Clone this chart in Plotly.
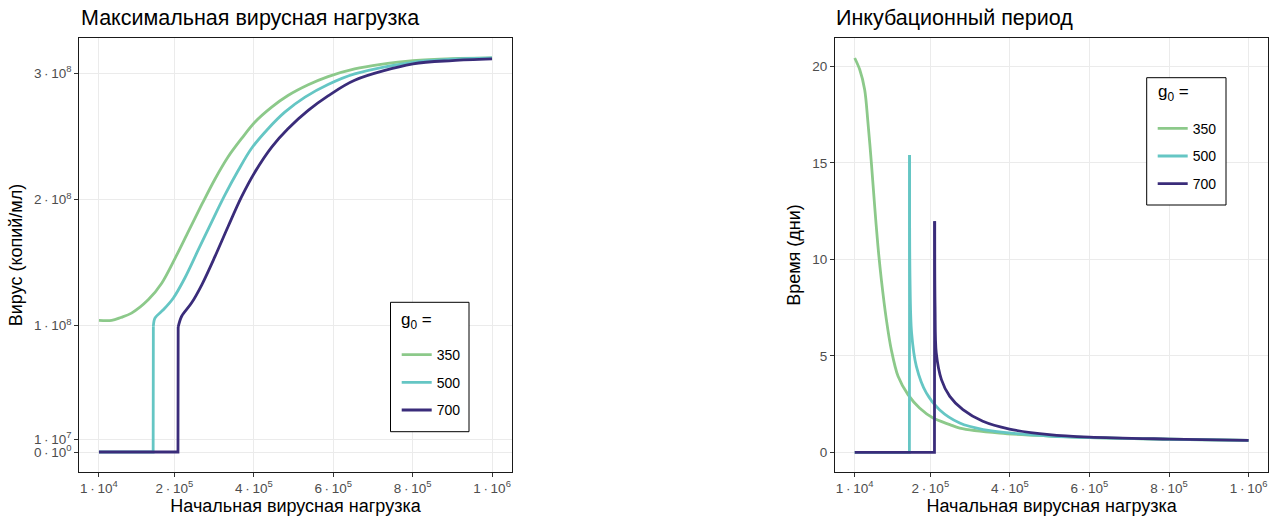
import plotly.graph_objects as go

# ---------------- data ----------------
g0_labels = ["350", "500", "700"]
colors = ["#8CC98A", "#65C6C4", "#3A2C7A"]

# Left panel: max viral load vs initial viral load
max_x_350 = [1e4, 4.2e4, 6.5e4, 9.2e4, 1.34e5, 1.68e5, 2.01e5, 2.35e5, 2.69e5, 3.02e5, 3.35e5, 3.69e5,
             4.03e5, 4.45e5, 4.86e5, 5.37e5, 5.87e5, 6.54e5, 7.2e5, 8.01e5, 9.0e5, 1.0e6]
max_y_350 = [1.042e8, 1.042e8, 1.065e8, 1.10e8, 1.205e8, 1.337e8, 1.53e8, 1.745e8, 1.96e8, 2.16e8,
             2.336e8, 2.481e8, 2.613e8, 2.731e8, 2.823e8, 2.908e8, 2.973e8, 3.034e8, 3.07e8, 3.10e8,
             3.115e8, 3.12e8]

max_x_500 = [1e4, 1.465e5, 1.47e5, 1.51e5, 1.72e5, 1.97e5, 2.26e5, 2.60e5, 2.94e5, 3.27e5, 3.61e5,
             3.94e5, 4.36e5, 4.78e5, 5.29e5, 5.87e5, 6.54e5, 8.01e5, 9.0e5, 1.0e6]
max_y_500 = [0, 0, 0.994e8, 1.06e8, 1.126e8, 1.218e8, 1.376e8, 1.60e8, 1.823e8, 2.034e8, 2.231e8,
             2.403e8, 2.56e8, 2.691e8, 2.81e8, 2.91e8, 2.994e8, 3.086e8, 3.11e8, 3.12e8]

max_x_700 = [1e4, 2.09e5, 2.095e5, 2.18e5, 2.43e5, 2.69e5, 3.02e5, 3.35e5, 3.69e5, 4.03e5, 4.45e5,
             4.86e5, 5.37e5, 5.87e5, 6.54e5, 8.01e5, 9.0e5, 1.0e6]
max_y_700 = [0, 0, 0.99e8, 1.073e8, 1.179e8, 1.324e8, 1.547e8, 1.784e8, 2.02e8, 2.218e8, 2.415e8,
             2.56e8, 2.705e8, 2.82e8, 2.944e8, 3.073e8, 3.10e8, 3.113e8]

# Right panel: incubation period
inc_x_350 = [1e4, 2.26e4, 3.51e4, 4.34e4, 5.19e4, 6.02e4, 6.85e4, 7.7e4, 8.96e4, 1.02e5, 1.19e5,
             1.44e5, 1.73e5, 2.07e5, 2.49e5, 2.74e5, 3.74e5, 5.0e5, 6.0e5, 8.0e5, 1.0e6]
inc_y_350 = [20.43, 19.83, 18.79, 17.07, 15.0, 12.75, 10.67, 8.95, 6.88, 5.32, 3.94,
             2.99, 2.30, 1.78, 1.44, 1.26, 1.0, 0.85, 0.77, 0.68, 0.62]

inc_x_500 = [1e4, 1.475e5, 1.48e5, 1.49e5, 1.53e5, 1.65e5, 1.90e5, 2.23e5, 2.74e5, 3.33e5, 4.17e5,
             5.0e5, 6.0e5, 8.0e5, 1.0e6]
inc_y_500 = [0, 0, 15.4, 9.0, 6.19, 4.46, 3.08, 2.21, 1.52, 1.18, 0.97, 0.85, 0.77, 0.68, 0.62]

inc_x_700 = [1e4, 2.105e5, 2.11e5, 2.12e5, 2.15e5, 2.28e5, 2.49e5, 2.82e5, 3.32e5, 3.99e5, 4.99e5,
             6.0e5, 8.0e5, 1.0e6]
inc_y_700 = [0, 0, 11.97, 7.5, 5.15, 3.77, 2.90, 2.21, 1.61, 1.21, 0.92, 0.79, 0.69, 0.62]

x_tickvals = [1e4, 2e5, 4e5, 6e5, 8e5, 1e6]
x_ticktext = ["1\u2009·\u200910<sup>4</sup>", "2\u2009·\u200910<sup>5</sup>", "4\u2009·\u200910<sup>5</sup>",
              "6\u2009·\u200910<sup>5</sup>", "8\u2009·\u200910<sup>5</sup>", "1\u2009·\u200910<sup>6</sup>"]
y1_tickvals = [0, 1e7, 1e8, 2e8, 3e8]
y1_ticktext = ["0\u2009·\u200910<sup>0</sup>", "1\u2009·\u200910<sup>7</sup>", "1\u2009·\u200910<sup>8</sup>",
               "2\u2009·\u200910<sup>8</sup>", "3\u2009·\u200910<sup>8</sup>"]
y2_tickvals = [0, 5, 10, 15, 20]

title_left = "Максимальная вирусная нагрузка"
title_right = "Инкубационный период"
xlabel = "Начальная вирусная нагрузка"
ylabel_left = "Вирус (копий/мл)"
ylabel_right = "Время (дни)"
legend_title = "g<sub>0</sub> ="

# ---------------- figure ----------------
FONT = "Liberation Sans, Arial, sans-serif"
W, H = 1283, 523
fig = go.Figure()


def add_series(xs, ys, i, xa, ya, leg, grp):
    # flat-zero part + vertical jump drawn straight, remaining smooth curve as spline
    k = 0
    if ys[0] == 0:
        k = next(j for j, v in enumerate(ys) if v != 0)
    style = dict(color=colors[i], width=2.8)
    if k > 0:
        fig.add_trace(go.Scatter(x=xs[:k + 1], y=ys[:k + 1], mode="lines", name=g0_labels[i],
                                 line=dict(shape="linear", **style), xaxis=xa, yaxis=ya,
                                 legend=leg, legendgroup=grp, showlegend=False, hoverinfo="skip"))
    fig.add_trace(go.Scatter(x=xs[k:], y=ys[k:], mode="lines", name=g0_labels[i],
                             line=dict(shape="spline", smoothing=0.9, **style), xaxis=xa, yaxis=ya,
                             legend=leg, legendgroup=grp, showlegend=True))


left_series = [(max_x_350, max_y_350), (max_x_500, max_y_500), (max_x_700, max_y_700)]
right_series = [(inc_x_350, inc_y_350), (inc_x_500, inc_y_500), (inc_x_700, inc_y_700)]
for i, (xs, ys) in enumerate(left_series):
    add_series(xs, ys, i, "x", "y", "legend", "L" + g0_labels[i])
for i, (xs, ys) in enumerate(right_series):
    add_series(xs, ys, i, "x2", "y2", "legend2", "R" + g0_labels[i])


def px_x(p):
    return p / W


def px_y(p):
    return 1 - p / H


axis_common = dict(showline=True, linecolor="#1a1a1a", linewidth=1, mirror=True,
                   ticks="outside", ticklen=4, tickcolor="#333333", tickwidth=1,
                   showgrid=True, gridcolor="#EBEBEB", gridwidth=1, zeroline=False,
                   tickfont=dict(family=FONT, size=13.5, color="#4D4D4D"))

ydom = [px_y(471.7), px_y(38.3)]
xr = [-3.95e4, 1.0495e6]
tfont = dict(size=18, color="black", family=FONT)

legend_common = dict(xanchor="left", yanchor="top", borderwidth=0, bgcolor="rgba(0,0,0,0)",
                     font=dict(size=14, family=FONT, color="black"), itemwidth=30, tracegroupgap=6.5)

fig.update_layout(
    width=W, height=H,
    margin=dict(l=0, r=0, t=0, b=0),
    paper_bgcolor="white", plot_bgcolor="white",
    font=dict(family=FONT, color="black"),
    xaxis=dict(domain=[px_x(79.3), px_x(511.7)], range=xr, anchor="y",
               tickvals=x_tickvals, ticktext=x_ticktext,
               title=dict(text=xlabel, font=tfont, standoff=2), **axis_common),
    yaxis=dict(domain=ydom, range=[-1.56e7, 3.276e8], anchor="x",
               tickvals=y1_tickvals, ticktext=y1_ticktext,
               title=dict(text=ylabel_left, font=tfont, standoff=6), **axis_common),
    xaxis2=dict(domain=[px_x(835), px_x(1268.3)], range=xr, anchor="y2",
                tickvals=x_tickvals, ticktext=x_ticktext,
                title=dict(text=xlabel, font=tfont, standoff=2), **axis_common),
    yaxis2=dict(domain=ydom, range=[-1.0, 21.45], anchor="x2",
                tickvals=y2_tickvals, ticktext=[str(v) for v in y2_tickvals],
                title=dict(text=ylabel_right, font=tfont, standoff=6), **axis_common),
    legend=dict(x=px_x(396.7), y=px_y(339), **legend_common),
    legend2=dict(x=px_x(1152.7), y=px_y(112.7), **legend_common),
    shapes=[
        dict(type="rect", xref="paper", yref="paper", layer="above",
             x0=px_x(390.5), x1=px_x(469), y0=px_y(431.7), y1=px_y(302.3),
             line=dict(color="black", width=1), fillcolor="white"),
        dict(type="rect", xref="paper", yref="paper", layer="above",
             x0=px_x(1146.7), x1=px_x(1226), y0=px_y(205), y1=px_y(77.7),
             line=dict(color="black", width=1), fillcolor="white"),
    ],
    annotations=[
        dict(text=title_left, x=px_x(79), y=px_y(18), xref="paper", yref="paper",
             xanchor="left", yanchor="middle", showarrow=False,
             font=dict(size=21.5, color="black", family=FONT)),
        dict(text=title_right, x=px_x(834), y=px_y(18), xref="paper", yref="paper",
             xanchor="left", yanchor="middle", showarrow=False,
             font=dict(size=21.5, color="black", family=FONT)),
        dict(text=legend_title, x=px_x(399), y=px_y(321), xref="paper", yref="paper",
             xanchor="left", yanchor="middle", showarrow=False,
             font=dict(size=17, color="black", family=FONT)),
        dict(text=legend_title, x=px_x(1155.5), y=px_y(93), xref="paper", yref="paper",
             xanchor="left", yanchor="middle", showarrow=False,
             font=dict(size=17, color="black", family=FONT)),
    ],
)

fig.write_html("out.html", config={"displayModeBar": False},
               post_script="document.body.style.margin='0';")
